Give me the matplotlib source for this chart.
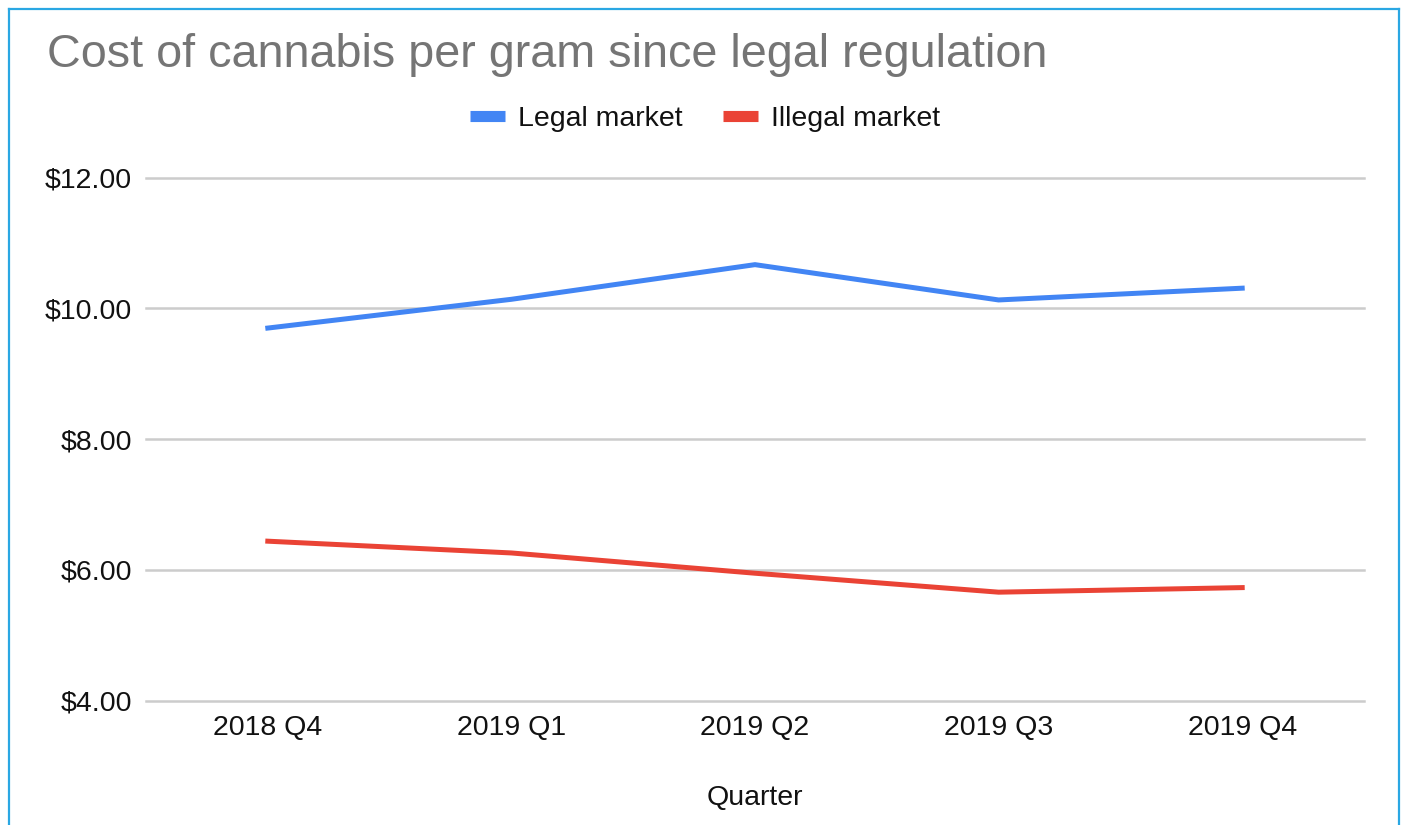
import matplotlib
matplotlib.use("Agg")
import matplotlib.pyplot as plt
from matplotlib.lines import Line2D
from matplotlib.ticker import FuncFormatter

quarters = ["2018 Q4", "2019 Q1", "2019 Q2", "2019 Q3", "2019 Q4"]
legal = [9.70, 10.14, 10.67, 10.13, 10.31]
illegal = [6.44, 6.26, 5.95, 5.66, 5.73]
series_names = ["Legal market", "Illegal market"]
title = "Cost of cannabis per gram since legal regulation"
xlabel = "Quarter"
yticks = [4, 6, 8, 10, 12]

plt.rcParams['font.family'] = ['Liberation Sans', 'DejaVu Sans']

W, H = 1406, 825
fig = plt.figure(figsize=(W / 100, H / 100), dpi=100)
fig.patch.set_facecolor('white')

ax = fig.add_axes([146 / W, 1 - 700.7 / H, (1364 - 146) / W, (700.7 - 177.7) / H])
blue = '#4285F4'
red = '#EA4335'
txt = '#111111'
x = list(range(len(quarters)))
ax.plot(x, legal, color=blue, lw=3.6, solid_joinstyle='miter', zorder=3)
ax.plot(x, illegal, color=red, lw=3.6, solid_joinstyle='miter', zorder=3)

ax.set_xlim(-0.5, len(quarters) - 0.5)
ax.set_ylim(4, 12)
ax.set_yticks(yticks)
ax.yaxis.set_major_formatter(FuncFormatter(lambda v, p: f"${v:.2f}"))
ax.set_xticks(x)
ax.set_xticklabels(quarters)
ax.tick_params(axis='both', length=0, labelsize=20.5, colors=txt)
ax.tick_params(axis='y', pad=10)
ax.tick_params(axis='x', pad=10)
for s in ax.spines.values():
    s.set_visible(False)
ax.grid(axis='y', color='#CCCCCC', lw=1.8, zorder=0)
ax.set_axisbelow(True)
for gl in ax.get_ygridlines():
    gl.set_clip_on(False)

fig.text(755 / W, 1 - 805 / H, xlabel, ha='center', va='baseline', fontsize=20.5, color=txt)
fig.text(47 / W, 1 - 66.7 / H, title, ha='left', va='baseline', fontsize=33.7, color='#757575')

handles = [Line2D([0], [0], color=blue, lw=8, solid_capstyle='butt'),
           Line2D([0], [0], color=red, lw=8, solid_capstyle='butt')]
fig.legend(handles, series_names, loc='center', bbox_to_anchor=(705 / W, 1 - 119 / H),
           ncol=2, frameon=False, fontsize=20.5, handlelength=1.25, handletextpad=0.45,
           columnspacing=1.4, labelcolor=txt)

border = '#2AA7E3'
fig.add_artist(Line2D([8.5 / W, 8.5 / W], [0, 1 - 8.5 / H], color=border, lw=1.6, transform=fig.transFigure))
fig.add_artist(Line2D([1398.5 / W, 1398.5 / W], [0, 1 - 8.5 / H], color=border, lw=1.6, transform=fig.transFigure))
fig.add_artist(Line2D([8.5 / W, 1398.5 / W], [1 - 8.5 / H, 1 - 8.5 / H], color=border, lw=1.6, transform=fig.transFigure))

fig.savefig("out.png", dpi=100)
